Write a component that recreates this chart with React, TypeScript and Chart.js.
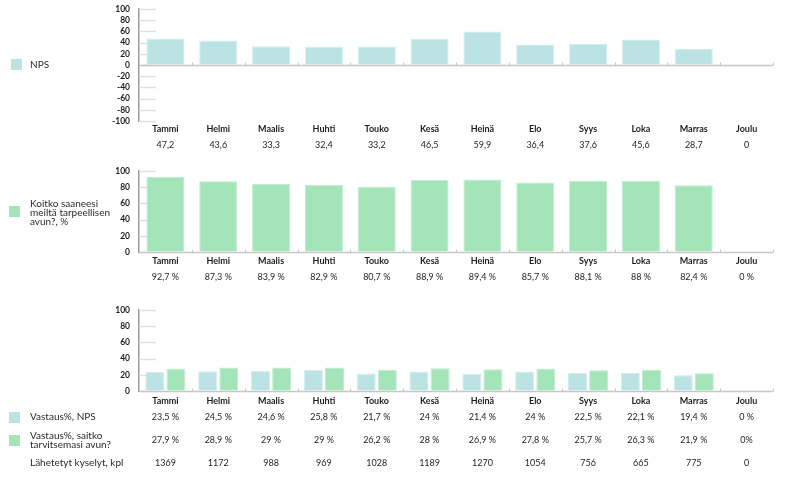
import React, { useEffect, useRef } from 'react';
import { Chart, registerables } from 'chart.js';

Chart.register(...registerables);

const months = ['Tammi', 'Helmi', 'Maalis', 'Huhti', 'Touko', 'Kesä', 'Heinä', 'Elo', 'Syys', 'Loka', 'Marras', 'Joulu'];

const npsValues = [47.2, 43.6, 33.3, 32.4, 33.2, 46.5, 59.9, 36.4, 37.6, 45.6, 28.7, 0];
const npsLabels = ['47,2', '43,6', '33,3', '32,4', '33,2', '46,5', '59,9', '36,4', '37,6', '45,6', '28,7', '0'];

const helpValues = [92.7, 87.3, 83.9, 82.9, 80.7, 88.9, 89.4, 85.7, 88.1, 88, 82.4, 0];
const helpLabels = ['92,7 %', '87,3 %', '83,9 %', '82,9 %', '80,7 %', '88,9 %', '89,4 %', '85,7 %', '88,1 %', '88 %', '82,4 %', '0 %'];

const respNpsValues = [23.5, 24.5, 24.6, 25.8, 21.7, 24, 21.4, 24, 22.5, 22.1, 19.4, 0];
const respNpsLabels = ['23,5 %', '24,5 %', '24,6 %', '25,8 %', '21,7 %', '24 %', '21,4 %', '24 %', '22,5 %', '22,1 %', '19,4 %', '0 %'];

const respHelpValues = [27.9, 28.9, 29, 29, 26.2, 28, 26.9, 27.8, 25.7, 26.3, 21.9, 0];
const respHelpLabels = ['27,9 %', '28,9 %', '29 %', '29 %', '26,2 %', '28 %', '26,9 %', '27,8 %', '25,7 %', '26,3 %', '21,9 %', '0%'];

const sentCounts = ['1369', '1172', '988', '969', '1028', '1189', '1270', '1054', '756', '665', '775', '0'];

const TEAL = '#bce3e3';
const GREEN = '#a4e4b9';
const FONT = 'Lato, "Open Sans", sans-serif';
const W = 795;
const H = 477;
const OFF = 40;
const CH = H + OFF;

type Row = { y: number; labels: string[]; bold?: boolean };

function decor(rows: Row[]) {
  return {
    id: 'decor',
    beforeDatasetsDraw(chart: any) {
      const { ctx, chartArea, scales } = chart;
      const y = scales.y;
      ctx.save();
      ctx.strokeStyle = '#e0e0e0';
      ctx.lineWidth = 1.5;
      y.ticks.forEach((_: any, i: number) => {
        const py = Math.round(y.getPixelForTick(i)) + 0.5;
        ctx.beginPath();
        ctx.moveTo(chartArea.left, py);
        ctx.lineTo(chartArea.left + 17, py);
        ctx.stroke();
      });
      ctx.restore();
    },
    afterDatasetsDraw(chart: any) {
      const { ctx, chartArea, scales } = chart;
      const x = scales.x;
      const y = scales.y;
      const n = months.length;
      const step = (chartArea.right - chartArea.left) / n;
      const y0 = Math.round(y.getPixelForValue(0)) + 0.5;
      ctx.save();
      ctx.strokeStyle = '#c6c6c6';
      ctx.lineWidth = 1.5;
      ctx.beginPath();
      ctx.moveTo(chartArea.left, y0);
      ctx.lineTo(chartArea.right, y0);
      ctx.stroke();
      ctx.lineWidth = 1;
      for (let i = 1; i <= n; i++) {
        const bx = Math.round(chartArea.left + i * step) + 0.5;
        ctx.beginPath();
        ctx.moveTo(bx, y0);
        ctx.lineTo(bx, y0 - 3);
        ctx.stroke();
      }
      ctx.textAlign = 'center';
      ctx.textBaseline = 'middle';
      ctx.fillStyle = '#1e1e1e';
      rows.forEach((r) => {
        ctx.font = (r.bold ? 'bold ' : '') + '9px ' + FONT;
        r.labels.forEach((l, i) => {
          ctx.fillText(l, x.getPixelForValue(i), r.y + OFF);
        });
      });
      ctx.restore();
    },
  };
}

function makeConfig(
  datasets: any[],
  min: number,
  max: number,
  top: number,
  bottom: number,
  rows: Row[]
): any {
  return {
    type: 'bar',
    data: { labels: months, datasets },
    options: {
      responsive: false,
      animation: false,
      devicePixelRatio: 1,
      layout: { padding: { top: top + OFF, bottom: H - bottom, left: 0, right: 22 } },
      plugins: { legend: { display: false }, tooltip: { enabled: false } },
      datasets: { bar: { categoryPercentage: 0.8, barPercentage: 0.9 } },
      scales: {
        x: { display: false },
        y: {
          min,
          max,
          ticks: {
            stepSize: 20,
            autoSkip: false,
            padding: 9,
            color: '#1e1e1e',
            font: { family: FONT, size: 8.5, weight: 'bold' },
          },
          grid: { drawOnChartArea: false, drawTicks: false },
          border: { display: true, color: '#9a9a9a', width: 1.5 },
          afterFit: (s: any) => {
            s.width = 139;
          },
        },
      },
    },
    plugins: [decor(rows)],
  };
}

const barStyle = { borderWidth: 1, borderSkipped: 'bottom' };

export default function App() {
  const r1 = useRef<HTMLCanvasElement>(null);
  const r2 = useRef<HTMLCanvasElement>(null);
  const r3 = useRef<HTMLCanvasElement>(null);

  useEffect(() => {
    const c1 = new Chart(
      r1.current as HTMLCanvasElement,
      makeConfig(
        [{ data: npsValues, backgroundColor: TEAL, borderColor: '#d2eded', ...barStyle }],
        -100,
        100,
        9,
        121,
        [
          { y: 129, labels: months, bold: true },
          { y: 145, labels: npsLabels },
        ]
      )
    );
    const c2 = new Chart(
      r2.current as HTMLCanvasElement,
      makeConfig(
        [{ data: helpValues, backgroundColor: GREEN, borderColor: '#c0eed0', ...barStyle }],
        0,
        100,
        171,
        252,
        [
          { y: 261, labels: months, bold: true },
          { y: 277, labels: helpLabels },
        ]
      )
    );
    const c3 = new Chart(
      r3.current as HTMLCanvasElement,
      makeConfig(
        [
          { data: respNpsValues, backgroundColor: TEAL, borderColor: '#d2eded', ...barStyle },
          { data: respHelpValues, backgroundColor: GREEN, borderColor: '#c0eed0', ...barStyle },
        ],
        0,
        100,
        310,
        391,
        [
          { y: 401, labels: months, bold: true },
          { y: 417, labels: respNpsLabels },
          { y: 440, labels: respHelpLabels },
          { y: 463, labels: sentCounts },
        ]
      )
    );
    return () => {
      c1.destroy();
      c2.destroy();
      c3.destroy();
    };
  }, []);

  const canvasStyle: React.CSSProperties = { position: 'absolute', left: 0, top: -OFF };
  const textStyle: React.CSSProperties = {
    position: 'absolute',
    left: 30,
    fontFamily: FONT,
    fontSize: 10,
    lineHeight: '9px',
    color: '#2a2a2a',
    whiteSpace: 'nowrap',
  };
  const box = (top: number, left: number, color: string): React.CSSProperties => ({
    position: 'absolute',
    left,
    top,
    width: 11,
    height: 11,
    background: color,
  });

  return (
    <div style={{ position: 'fixed', left: 0, top: 0, width: W, height: H, background: '#fff', overflow: 'hidden' }}>
      <canvas ref={r1} width={W} height={CH} style={canvasStyle} />
      <canvas ref={r2} width={W} height={CH} style={canvasStyle} />
      <canvas ref={r3} width={W} height={CH} style={canvasStyle} />

      <div style={box(59, 11, TEAL)} />
      <div style={{ ...textStyle, top: 60 }}>NPS</div>

      <div style={box(206, 9, GREEN)} />
      <div style={{ ...textStyle, top: 199 }}>
        Koitko saaneesi
        <br />
        meiltä tarpeellisen
        <br />
        avun?, %
      </div>

      <div style={box(412, 9, TEAL)} />
      <div style={{ ...textStyle, top: 412 }}>Vastaus%, NPS</div>

      <div style={box(435, 9, GREEN)} />
      <div style={{ ...textStyle, top: 431 }}>
        Vastaus%, saitko
        <br />
        tarvitsemasi avun?
      </div>

      <div style={{ ...textStyle, top: 458 }}>Lähetetyt kyselyt, kpl</div>
    </div>
  );
}
